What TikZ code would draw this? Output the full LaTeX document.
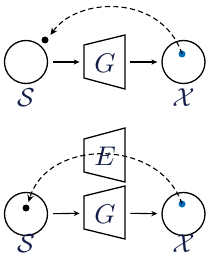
\documentclass[tikz,border=0pt]{standalone}
\usetikzlibrary{arrows.meta}
\definecolor{txtblue}{RGB}{18,30,72}
\definecolor{dotblue}{RGB}{0,112,192}
\begin{document}
\begin{tikzpicture}[x=0.5pt,y=-0.5pt,
  space/.style={circle,draw,line width=0.65pt,minimum size=21.5pt,inner sep=0pt},
  netbox/.style={rectangle,minimum width=20.5pt,minimum height=16pt,inner sep=0pt},
  trap/.style={line width=0.65pt,line join=miter},
  flow/.style={line width=0.55pt,-{Stealth[length=3pt,width=2.6pt]},shorten <=2.5pt,shorten >=2pt},
  back/.style={line width=0.55pt,dash pattern=on 2.6pt off 1.6pt,-{Stealth[length=3.6pt,width=3.2pt]}},
  lab/.style={text=txtblue,inner sep=0pt,scale=1.3},
  net/.style={text=txtblue,inner sep=0pt,scale=1.35}]
\useasboundingbox (0,0) rectangle (210,262);
% ---------- top panel ----------
\node[space] (S1) at (26,62) {};
\node[space] (X1) at (183.5,62) {};
\node[lab] (S1l) at (26,98) {$\mathcal{S}$};
\node[lab] (X1l) at (183.5,98) {$\mathcal{X}$};
\draw[trap] (84,45) -- (125,35) -- (125,89) -- (84,78) -- cycle;
\node[netbox] (G1) at (104.5,62) {};
\node[net] (G1t) at (105,63) {$G$};
\draw[flow] (S1) -- (G1);
\draw[flow] (G1) -- (X1);
\fill (45,40) circle (3.5) coordinate (s1dot);
\fill[dotblue] (182,54) circle (3.5) coordinate (x1dot);
\coordinate (s1tip) at (50.5,35);
\draw[back] (x1dot) .. controls (162,-6) and (78,-4) .. (s1tip);
% ---------- bottom panel ----------
\node[space] (S2) at (26,214) {};
\node[space] (X2) at (183.5,214) {};
\node[lab] (S2l) at (26,244) {$\mathcal{S}$};
\node[lab] (X2l) at (183.5,244) {$\mathcal{X}$};
\draw[trap] (84,196) -- (125,186) -- (125,239) -- (84,229) -- cycle;
\draw[trap] (84,139) -- (125,128) -- (125,182) -- (84,172) -- cycle;
\node[netbox] (G2) at (104.5,213) {};
\node[net] (G2t) at (105,214) {$G$};
\node[net] (E2t) at (105,156) {$E$};
\draw[flow] (S2) -- (G2);
\draw[flow] (G2) -- (X2);
\fill (26,208) circle (3.5) coordinate (s2dot);
\fill[dotblue] (182,204) circle (3.5) coordinate (x2dot);
\coordinate (s2tip) at (28.5,202);
\draw[back] (x2dot) .. controls (160,138) and (48,138) .. (s2tip);
\end{tikzpicture}
\end{document}
